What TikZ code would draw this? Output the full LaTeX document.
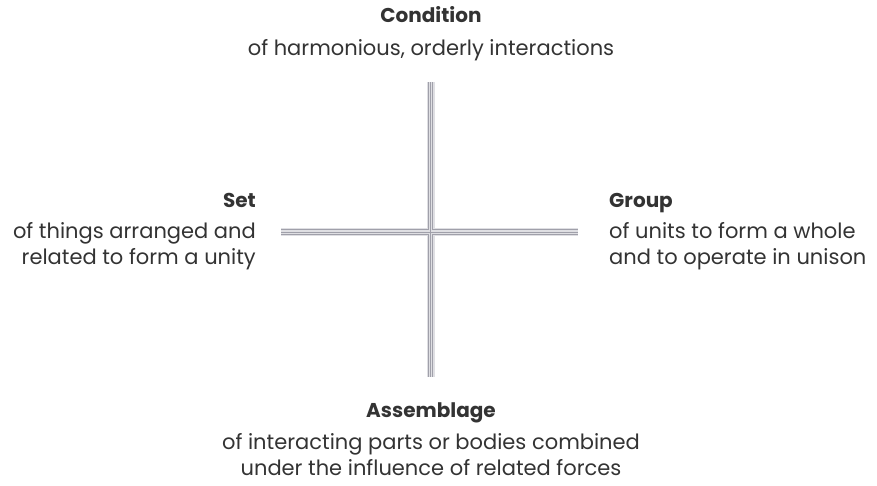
\documentclass[tikz,border=0pt]{standalone}
\usepackage{fontspec}
\setmainfont{Poppins}
\usetikzlibrary{positioning}
\definecolor{txtgray}{HTML}{333333}
\definecolor{linegray}{HTML}{A0A0AA}
\definecolor{bandgray}{HTML}{DFDFE3}
\tikzset{
    x=1pt, y=1pt,
    head/.style={ % bold titles
        font=\fontsize{20}{26}\selectfont\bfseries,
        text=txtgray, inner sep=0pt
    },
    body/.style={ % plain description lines
        font=\fontsize{21}{26.5}\selectfont,
        text=txtgray, inner sep=0pt
    },
    band/.style={draw=bandgray, line width=8pt}, % pale strip under the rails
    rails/.style={draw=linegray, line width=0.8pt, double=bandgray, double distance=3.6pt},
    rail/.style={draw=linegray, line width=0.8pt}
}
\begin{document}
\begin{tikzpicture}
    \useasboundingbox (0,0) rectangle (877,486);
    % axis ends
    \coordinate (top)    at (430.5,404);
    \coordinate (bottom) at (430.5,109);
    \coordinate (left)   at (281,254);
    \coordinate (right)  at (578,254);
    \draw[band]  (top) -- (bottom)  (left) -- (right);
    \draw[rails] (top) -- (bottom)  (left) -- (right);
    \draw[rail]  (top) -- (bottom)  (left) -- (right);
    % labels
    \node[head, anchor=base]       (cond)     at (431,463) {Condition};
    \node[body, anchor=north]      (condtxt)  at (431,447) {of harmonious, orderly interactions};
    \node[head, anchor=base east]  (set)      at (256,278) {Set};
    \node[body, anchor=north east, align=right] (settxt) at (256,264)
        {of things arranged and\\related to form a unity};
    \node[head, anchor=base west]  (group)    at (609,278) {Group};
    \node[body, anchor=north west, align=left] (grouptxt) at (609,264)
        {of units to form a whole\\and to operate in unison};
    \node[head, anchor=base]       (assem)    at (431,68) {Assemblage};
    \node[body, anchor=north, align=center] (assemtxt) at (431,53)
        {of interacting parts or bodies combined\\under the influence of related forces};
\end{tikzpicture}
\end{document}
